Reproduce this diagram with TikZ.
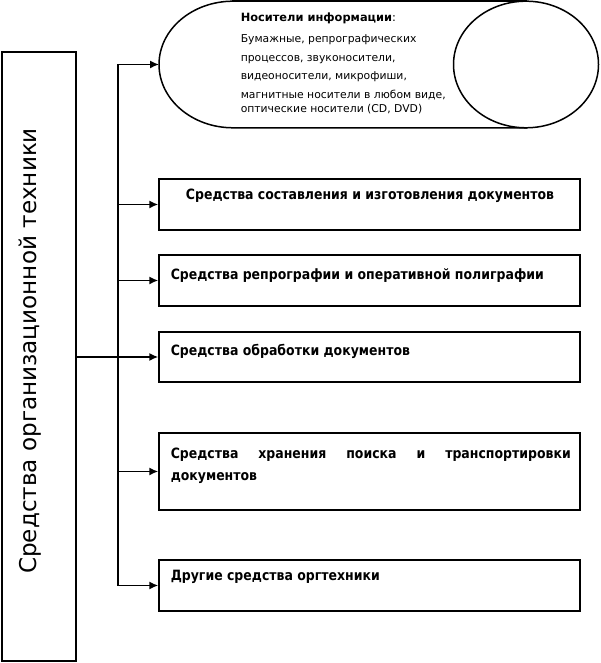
\documentclass[tikz,border=0pt]{standalone}
\usepackage{fontspec}
\setmainfont{DejaVu Sans}
\newfontfamily\boxfont[FakeStretch=0.88]{DejaVu Sans}
\usetikzlibrary{arrows.meta,calc}
\begin{document}
\begin{tikzpicture}[x=1pt,y=1pt,
  line width=1.5pt, line cap=rect,
  arr/.style={-{Latex[length=9pt,width=8pt]}, line cap=butt},
  boxnode/.style={draw, minimum width=421pt, inner sep=0pt, anchor=center},
  boxtext/.style={inner sep=0pt, font=\boxfont\fontsize{14.2}{22}\selectfont\bfseries},
]
\useasboundingbox (0,0) rectangle (600,663);
\fill[white] (0,0) rectangle (600,663);

% left box
\node[draw, minimum width=74pt, minimum height=609pt, inner sep=0pt] (left) at (39,306.5) {};
\node[rotate=90, inner sep=0pt, font=\fontsize{23.1}{28}\selectfont] (lefttext) at (30.5,312) {Средства организационной техники};

% cylinder
\draw (233,661.8) -- (526,661.8);
\draw (233,661.8) arc[start angle=90, end angle=270, x radius=74, y radius=63.3] -- (526,535.2);
\draw (526,598.5) ellipse [x radius=72.5, y radius=63.3];
\coordinate (cylw) at (159,598.5);
\node[anchor=north west, inner sep=0pt, align=left, font=\fontsize{10.8}{18.5}\selectfont] (cyl) at (240,651)
  {{\fontsize{11.4}{18.5}\selectfont\textbf{Носители информации}:}\\[2.5pt]
   Бумажные, репрографических\\[0.5pt]
   процессов, звуконосители,\\
   видеоносители, микрофиши,\\
   магнитные носители в любом виде,\\[-4pt]
   оптические носители (CD, DVD)};

% boxes
\node[boxnode, minimum height=51pt] (b1) at (369.5,458.5) {};
\node[boxnode, minimum height=51pt] (b2) at (369.5,382.5) {};
\node[boxnode, minimum height=50pt] (b3) at (369.5,306) {};
\node[boxnode, minimum height=77pt] (b4) at (369.5,191.5) {};
\node[boxnode, minimum height=51pt] (b5) at (369.5,77.5) {};

\node[boxtext, anchor=base] (t1) at (370,463) {Средства составления и изготовления документов};
\node[boxtext, anchor=base west] (t2) at (170,383) {Средства репрографии и оперативной полиграфии};
\node[boxtext, anchor=base west] (t3) at (170,307) {Средства обработки документов};
\node[boxtext, anchor=north west, align=left] (t4) at (170,215.5)
  {\makebox[400pt][s]{Средства хранения поиска и транспортировки}\\документов};
\node[boxtext, anchor=base west] (t5) at (170,82.5) {Другие средства оргтехники};

% connectors
\coordinate (jtop) at (118,598.5);
\coordinate (jbot) at (jtop |- b5.west);
\draw (jtop) -- (jbot);
\draw[arr] (jtop) -- (cylw);
\draw[arr] (jtop |- b1.west) -- (b1.west);
\draw[arr] (jtop |- b2.west) -- (b2.west);
\draw[arr] (left.east |- b3.west) -- (b3.west);
\draw[arr] (jtop |- b4.west) -- (b4.west);
\draw[arr] (jbot) -- (b5.west);
\end{tikzpicture}
\end{document}
